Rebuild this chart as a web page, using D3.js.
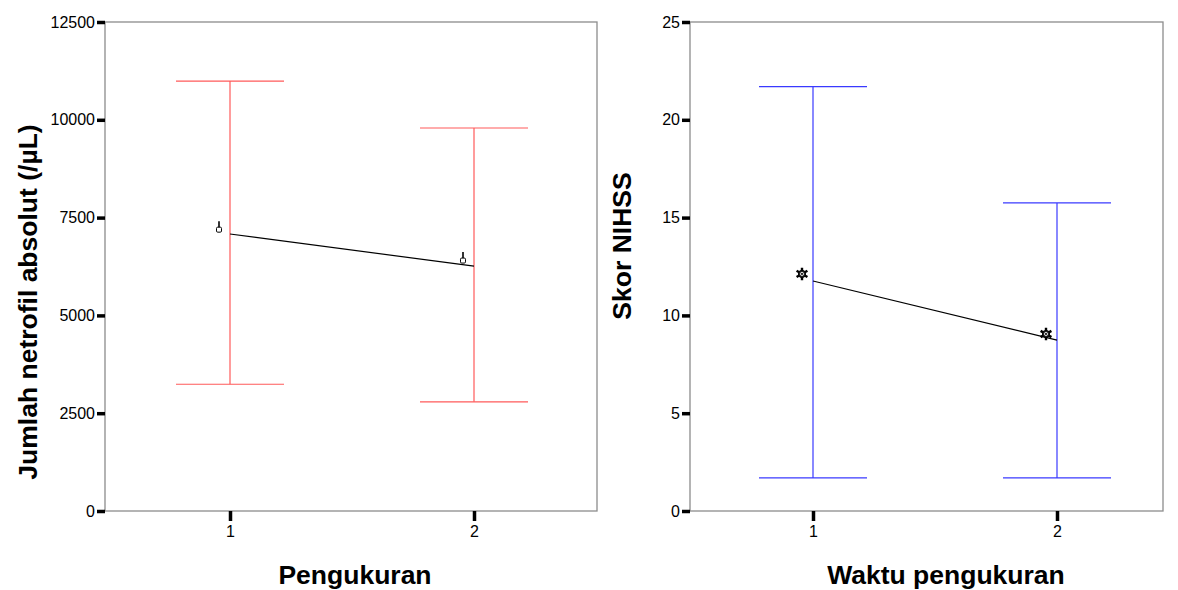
<!DOCTYPE html>
<html>
<head>
<meta charset="utf-8">
<script src="https://cdn.jsdelivr.net/npm/d3@7"></script>
<style>
  body { margin: 0; background: #fff; }
  text { font-family: "Liberation Sans", Arial, sans-serif; }
</style>
</head>
<body>
<svg id="chart" width="1178" height="590"></svg>
<script>
// data
let groups = ['1', '2'];

// left panel: neutrophil count
let netMean = [7080, 6260];
let netMarker = [7230, 6440];
let netLow = [3240, 2790];
let netHigh = [10990, 9790];
let netTicks = [0, 2500, 5000, 7500, 10000, 12500];

// right panel: NIHSS score
let nihssMean = [11.76, 8.74];
let nihssMarker = [12.12, 9.05];
let nihssLow = [1.69, 1.69];
let nihssHigh = [21.7, 15.75];
let nihssTicks = [0, 5, 10, 15, 20, 25];

let svg = d3.select('#chart');

function drawPanel(opt){
    let margL = opt.left, margR = opt.right;
    let margT = 22, margB = 511;

    let xScale = d3.scalePoint()
                    .domain(groups)
                    .range([opt.x1, opt.x2]);
    let yScale = d3.scaleLinear()
                    .domain([0, opt.ticks[opt.ticks.length - 1]])
                    .range([margB, margT]);

    let g = svg.append('g');

    // frame
    g.append('rect')
        .attr('x', margL)
        .attr('y', margT)
        .attr('width', margR - margL)
        .attr('height', margB - margT)
        .attr('fill', 'none')
        .attr('stroke', '#8c8c8c')
        .attr('stroke-width', 1.3);

    // y axis ticks
    let yAxis = d3.axisLeft(yScale)
                    .tickValues(opt.ticks)
                    .tickSize(8)
                    .tickPadding(2)
                    .tickFormat(d3.format('d'));
    let yG = g.append('g')
        .attr('transform', 'translate(' + margL + ',0)')
        .call(yAxis);
    yG.select('.domain').remove();
    yG.selectAll('line').attr('stroke', '#000').attr('stroke-width', 3.5);
    yG.selectAll('text').attr('font-size', 16).attr('fill', '#000')
        .attr('font-family', '"Liberation Sans", Arial, sans-serif');

    // x axis ticks
    let xAxis = d3.axisBottom(xScale)
                    .tickSize(10)
                    .tickPadding(5);
    let xG = g.append('g')
        .attr('transform', 'translate(0,' + margB + ')')
        .call(xAxis);
    xG.select('.domain').remove();
    xG.selectAll('line').attr('stroke', '#000').attr('stroke-width', 3.5);
    xG.selectAll('text').attr('font-size', 16).attr('fill', '#000')
        .attr('font-family', '"Liberation Sans", Arial, sans-serif');

    // error bars
    let rows = groups.map(function(d, i){
        return {g: d, mean: opt.mean[i], mark: opt.marker[i], lo: opt.low[i], hi: opt.high[i]};
    });
    let capW = 54;
    let bars = g.append('g');
    rows.forEach(function(d){
        let cx = xScale(d.g);
        bars.append('line')
            .attr('x1', cx).attr('x2', cx)
            .attr('y1', yScale(d.hi)).attr('y2', yScale(d.lo));
        bars.append('line')
            .attr('x1', cx - capW).attr('x2', cx + capW)
            .attr('y1', yScale(d.hi)).attr('y2', yScale(d.hi));
        bars.append('line')
            .attr('x1', cx - capW).attr('x2', cx + capW)
            .attr('y1', yScale(d.lo)).attr('y2', yScale(d.lo));
    });
    bars.selectAll('line')
        .attr('stroke', opt.color)
        .attr('stroke-width', 1.2);

    // mean line
    let line = d3.line()
                    .x(function(d){ return xScale(d.g); })
                    .y(function(d){ return yScale(d.mean); });
    g.append('path')
        .datum(rows)
        .attr('d', line)
        .attr('fill', 'none')
        .attr('stroke', '#000')
        .attr('stroke-width', 1.2);

    // markers, drawn a little to the left of the bars
    let marks = g.selectAll('.mark')
        .data(rows)
        .enter()
        .append('g')
        .attr('class', 'mark')
        .attr('transform', function(d){
            return 'translate(' + (xScale(d.g) - 11) + ',' + yScale(d.mark) + ')';
        });
    if (opt.markType === 'pin') {
        marks.append('line')
            .attr('x1', 0).attr('x2', 0)
            .attr('y1', -7).attr('y2', 0)
            .attr('stroke', '#000').attr('stroke-width', 1.6);
        marks.append('rect')
            .attr('x', -2.5).attr('y', -1)
            .attr('width', 5).attr('height', 5)
            .attr('rx', 1.2)
            .attr('fill', '#fff')
            .attr('stroke', '#000')
            .attr('stroke-width', 1);
    } else {
        marks.append('path')
            .attr('d', d3.symbol().type(d3.symbolAsterisk).size(110))
            .attr('fill', 'none')
            .attr('stroke', '#000')
            .attr('stroke-width', 2.4);
        marks.append('circle')
            .attr('r', 3.6)
            .attr('fill', '#222')
            .attr('stroke', '#000')
            .attr('stroke-width', 1);
        marks.append('circle')
            .attr('r', 1.6)
            .attr('fill', 'none')
            .attr('stroke', '#fff')
            .attr('stroke-width', 0.8);
    }

    // axis titles
    g.append('text')
        .attr('x', opt.xTitleX)
        .attr('y', 584)
        .attr('text-anchor', 'middle')
        .attr('font-size', 26.5)
        .attr('font-weight', 'bold')
        .text(opt.xTitle);
    g.append('text')
        .attr('transform', 'translate(' + opt.yTitleX + ',' + opt.yTitleY + ') rotate(-90)')
        .attr('text-anchor', 'middle')
        .attr('font-size', 26.5)
        .attr('font-weight', 'bold')
        .text(opt.yTitle);
}

drawPanel({
    left: 105, right: 597, x1: 230, x2: 474,
    ticks: netTicks, mean: netMean, marker: netMarker, low: netLow, high: netHigh,
    color: '#ff5a5a', markType: 'pin',
    xTitle: 'Pengukuran', xTitleX: 355,
    yTitle: 'Jumlah netrofil absolut (/µL)', yTitleX: 37, yTitleY: 302
});

drawPanel({
    left: 690, right: 1163, x1: 813, x2: 1057,
    ticks: nihssTicks, mean: nihssMean, marker: nihssMarker, low: nihssLow, high: nihssHigh,
    color: '#3a3aff', markType: 'gear',
    xTitle: 'Waktu pengukuran', xTitleX: 946,
    yTitle: 'Skor NIHSS', yTitleX: 631, yTitleY: 246
});
</script>
</body>
</html>
